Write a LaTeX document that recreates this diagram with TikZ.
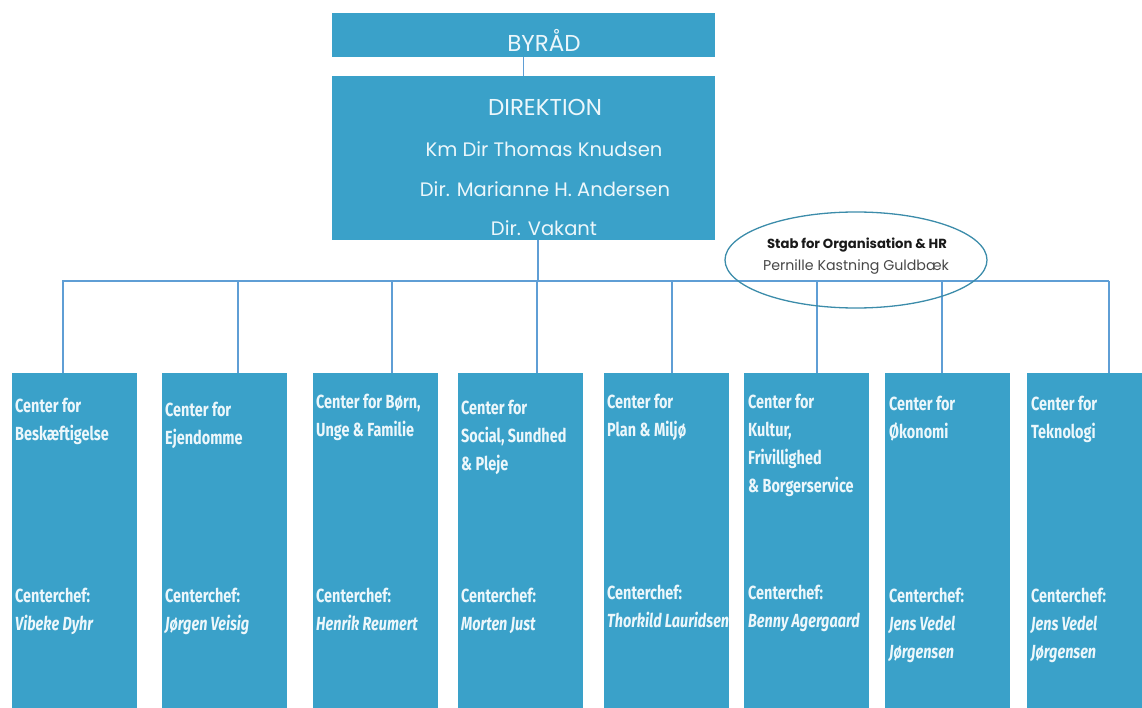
\documentclass[tikz,border=0pt]{standalone}
\usepackage{fontspec}
\setmainfont{Poppins}
\newfontfamily\condfont[FakeStretch=0.76]{Fira Sans}
\usetikzlibrary{shapes.geometric}
\definecolor{boxblue}{RGB}{58,161,201}
\definecolor{linblue}{RGB}{95,158,213}
\definecolor{ellcol}{RGB}{60,140,170}
\definecolor{txtw}{RGB}{236,247,251}
\tikzset{
  cbox/.style={rectangle, fill=boxblue, draw=none, minimum width=125pt, minimum height=345pt, inner sep=0pt, anchor=north west},
  tbox/.style={rectangle, fill=boxblue, draw=none, minimum width=383pt, inner sep=0pt},
  ttext/.style={text=txtw, font=\fontsize{19.5}{22}\selectfont, inner sep=0pt, anchor=base},
  ctext/.style={text=txtw, font=\condfont\bfseries\fontsize{19}{28}\selectfont, align=left, inner sep=0pt, anchor=base west},
  conn/.style={draw=linblue, line width=1.1pt},
}
\begin{document}
\begin{tikzpicture}[x=1pt,y=-1pt]
\useasboundingbox (0,0) rectangle (1142,708);
\clip (0,0) rectangle (1142,708);
% top boxes
\node[tbox, minimum height=44pt] (byrad) at (523.5,35) {};
\node[ttext, font=\fontsize{23}{26}\selectfont] (byradt) at (544,52) {BYRÅD};
\node[tbox, minimum height=164pt] (dir) at (523.5,158) {};
\node[ttext, font=\fontsize{23}{26}\selectfont] (dirt) at (545,115.5) {DIREKTION};
\node[ttext] (d1) at (544,157) {Km Dir Thomas Knudsen};
\node[ttext] (d2) at (545,197) {Dir. Marianne H. Andersen};
\node[ttext] (d3) at (544,236) {Dir. Vakant};
% center boxes
\node[cbox] (b1) at (12,373) {};
\node[cbox] (b2) at (162,373) {};
\node[cbox] (b3) at (313,373) {};
\node[cbox] (b4) at (458,373) {};
\node[cbox] (b5) at (604,373) {};
\node[cbox] (b6) at (744,373) {};
\node[cbox] (b7) at (885,373) {};
\node[cbox] (b8) at (1027,373) {};
% connectors
\draw[conn] (byrad.south) -- (dir.north);
\coordinate (bus) at (538,281);
\coordinate (busL) at (62,281);
\coordinate (busR) at (1109,281);
\draw[conn] (dir.south -| bus) -- (bus);
\draw[conn] (busL) -- (busR);
\coordinate (p1) at (63,281);
\coordinate (p2) at (238,281);
\coordinate (p3) at (392,281);
\coordinate (p4) at (537,281);
\coordinate (p5) at (672,281);
\coordinate (p6) at (817,281);
\coordinate (p7) at (942,281);
\coordinate (p8) at (1109,281);
\foreach \i in {1,...,8} {\draw[conn] (p\i) -- (p\i |- b\i.north);}
% ellipse
\node[draw=ellcol, ellipse, line width=1.3pt, minimum width=262pt, minimum height=96pt, inner sep=0pt] (stab) at (856,260) {};
\node[font=\bfseries\fontsize{13.2}{15}\selectfont, text=black!90, inner sep=0pt] (stab1) at (857,245) {Stab for Organisation \& HR};
\node[font=\fontsize{14.2}{16}\selectfont, text=black!72, inner sep=0pt] (stab2) at (856,267) {Pernille Kastning Guldbæk};
% center texts
\node[ctext] (t1) at (15,440) {Center for\\Beskæftigelse};
\node[ctext] (n1) at (15,630) {Centerchef:\\\itshape Vibeke Dyhr};
\node[ctext] (t2) at (165,444) {Center for\\Ejendomme};
\node[ctext] (n2) at (165,630) {Centerchef:\\\itshape Jørgen Veisig};
\node[ctext] (t3) at (316,436) {Center for Børn,\\Unge \& Familie};
\node[ctext] (n3) at (316,630) {Centerchef:\\\itshape Henrik Reumert};
\node[ctext] (t4) at (461,470) {Center for\\Social, Sundhed\\\& Pleje};
\node[ctext] (n4) at (461,630) {Centerchef:\\\itshape Morten Just};
\node[ctext] (t5) at (607,436) {Center for\\Plan \& Miljø};
\node[ctext] (n5) at (607,627) {Centerchef:\\\itshape Thorkild Lauridsen};
\node[ctext] (t6) at (748,492) {Center for\\Kultur,\\Frivillighed\\\& Borgerservice};
\node[ctext] (n6) at (748,627) {Centerchef:\\\itshape Benny Agergaard};
\node[ctext] (t7) at (889,438) {Center for\\Økonomi};
\node[ctext] (n7) at (889,658) {Centerchef:\\\itshape Jens Vedel\\\itshape Jørgensen};
\node[ctext] (t8) at (1031,438) {Center for\\Teknologi};
\node[ctext] (n8) at (1031,658) {Centerchef:\\\itshape Jens Vedel\\\itshape Jørgensen};
\end{tikzpicture}
\end{document}
